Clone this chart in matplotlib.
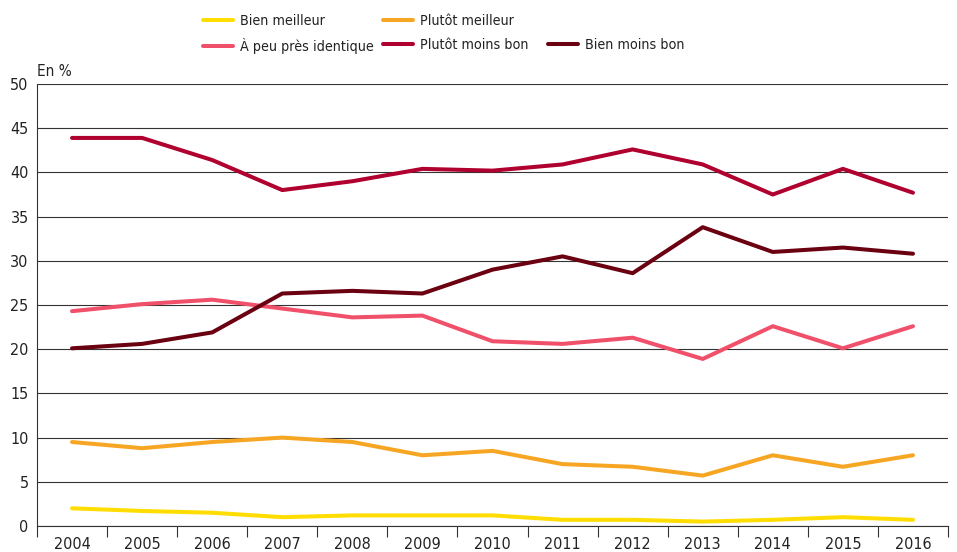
import matplotlib
matplotlib.use("Agg")
import matplotlib.pyplot as plt

years = ["2004", "2005", "2006", "2007", "2008", "2009", "2010",
         "2011", "2012", "2013", "2014", "2015", "2016"]

bien_meilleur = [2.0, 1.7, 1.5, 1.0, 1.2, 1.2, 1.2, 0.7, 0.7, 0.5, 0.7, 1.0, 0.7]
plutot_meilleur = [9.5, 8.8, 9.5, 10.0, 9.5, 8.0, 8.5, 7.0, 6.7, 5.7, 8.0, 6.7, 8.0]
identique = [24.3, 25.1, 25.6, 24.6, 23.6, 23.8, 20.9, 20.6, 21.3, 18.9, 22.6, 20.1, 22.6]
plutot_moins_bon = [43.9, 43.9, 41.4, 38.0, 39.0, 40.4, 40.2, 40.9, 42.6, 40.9, 37.5, 40.4, 37.7]
bien_moins_bon = [20.1, 20.6, 21.9, 26.3, 26.6, 26.3, 29.0, 30.5, 28.6, 33.8, 31.0, 31.5, 30.8]

series = [
    ("Bien meilleur", bien_meilleur, "#FFDD00"),
    ("Plutôt meilleur", plutot_meilleur, "#F7A623"),
    ("À peu près identique", identique, "#F0506A"),
    ("Plutôt moins bon", plutot_moins_bon, "#B0002F"),
    ("Bien moins bon", bien_moins_bon, "#6A0010"),
]

plt.rcParams["font.family"] = ["DejaVu Sans"]
plt.rcParams["font.stretch"] = "condensed"

W, H = 957, 552
fig = plt.figure(figsize=(W / 100, H / 100), dpi=100)
ax = fig.add_axes([37 / W, 1 - 526 / H, 911 / W, 442 / H])

x = list(range(len(years)))
handles = {}
for label, vals, color in series:
    (ln,) = ax.plot(x, vals, color=color, lw=2.9, solid_capstyle="round",
                    solid_joinstyle="round", label=label, zorder=3)
    handles[label] = ln

ax.set_xlim(-0.5, len(years) - 0.5)
ax.set_ylim(0, 50)
ax.set_yticks(range(0, 51, 5))
ax.yaxis.grid(True, color="#333333", lw=0.8)
ax.set_axisbelow(True)
ax.tick_params(axis="y", length=0, labelsize=11.5, colors="#222222", pad=6)

ax.set_xticks(x)
ax.set_xticklabels(years)
ax.set_xticks([i - 0.5 for i in range(len(years) + 1)], minor=True)
ax.tick_params(axis="x", which="major", length=0, labelsize=11.5, colors="#222222", pad=8)
ax.tick_params(axis="x", which="minor", length=8, width=0.8, color="#333333")

for s in ("top", "right"):
    ax.spines[s].set_visible(False)
for s in ("left", "bottom"):
    ax.spines[s].set_color("#333333")
    ax.spines[s].set_linewidth(0.8)

ax.text(0.0, 1.012, "En %", transform=ax.transAxes, fontsize=11,
        color="#222222", ha="left", va="bottom")

# legend columns placed by hand, like the source layout
cols = [
    (["Bien meilleur", "À peu près identique"], 203, 14),
    (["Plutôt meilleur", "Plutôt moins bon"], 383, 14),
    (["Bien moins bon"], 548, 38),
]
for names, px, py in cols:
    leg = fig.legend([handles[n] for n in names], names, loc="upper left",
                     bbox_to_anchor=(px / W, 1 - py / H), frameon=False,
                     fontsize=10.3, handlelength=2.1, handletextpad=0.48,
                     labelspacing=0.72, borderpad=0, borderaxespad=0)
    for t in leg.get_texts():
        t.set_color("#222222")

fig.savefig("out.png", dpi=100)
